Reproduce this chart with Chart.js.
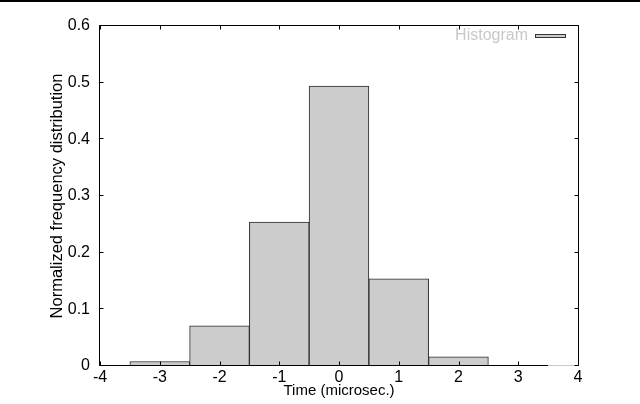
<!DOCTYPE html>
<html><head><meta charset="utf-8">
<script src="https://cdn.jsdelivr.net/npm/chart.js@4"></script>
<style>html,body{margin:0;padding:0;background:#fff;}#wrap{width:640px;height:404px;position:relative}canvas{display:block}</style>
</head><body><div id="wrap"><canvas id="c" width="640" height="404"></canvas></div>
<script>
const binCenters = [-3, -2, -1, 0, 1, 2, 3];
const frequencies = [0.008, 0.071, 0.254, 0.494, 0.154, 0.016, 0.001];
const xTickValues = [-4, -3, -2, -1, 0, 1, 2, 3, 4];
const yTickValues = [0, 0.1, 0.2, 0.3, 0.4, 0.5, 0.6];
const seriesLabel = 'Histogram';
const xTitle = 'Time (microsec.)';
const yTitle = 'Normalized frequency distribution';

const FONT = '"Liberation Sans", Arial, Helvetica, sans-serif';

const framePlugin = {
  id: 'frame',
  afterDatasetsDraw(chart) {
    const {ctx, chartArea: a, scales: {x, y}} = chart;
    ctx.save();
    const L = Math.round(a.left) - 0.5, R = Math.round(a.right) + 0.5;
    const T = Math.round(a.top) - 0.5, B = Math.round(a.bottom) - 0.5;
    const tl = 4;
    ctx.lineWidth = 1;
    ctx.strokeStyle = '#000';
    ctx.beginPath();
    ctx.moveTo(L, B); ctx.lineTo(L, T); ctx.lineTo(R, T); ctx.lineTo(R, B);
    const xEnd = x.getPixelForValue(binCenters[binCenters.length - 1] + 0.5);
    ctx.moveTo(L, B); ctx.lineTo(xEnd, B);
    ctx.stroke();
    ctx.strokeStyle = '#c8c8c8';
    ctx.beginPath(); ctx.moveTo(xEnd, B); ctx.lineTo(R - 0.5, B); ctx.stroke();
    ctx.strokeStyle = '#000';
    ctx.beginPath();
    xTickValues.forEach(v => {
      const px = Math.round(x.getPixelForValue(v)) + 0.5;
      ctx.moveTo(px, B); ctx.lineTo(px, B - tl);
      ctx.moveTo(px, T); ctx.lineTo(px, T + tl);
    });
    yTickValues.forEach(v => {
      const py = Math.round(y.getPixelForValue(v)) - 0.5;
      ctx.moveTo(L, py); ctx.lineTo(L + tl, py);
      ctx.moveTo(R, py); ctx.lineTo(R - tl, py);
    });
    ctx.stroke();
    ctx.font = '16px ' + FONT;
    ctx.fillStyle = '#c8c8c8';
    ctx.textAlign = 'right';
    ctx.textBaseline = 'middle';
    ctx.fillText(chart.data.datasets[0].label, 528, 36);
    ctx.fillStyle = '#cccccc';
    ctx.fillRect(535, 34, 31, 4);
    ctx.strokeStyle = '#333';
    ctx.strokeRect(535.5, 34.5, 30, 3);
    ctx.fillStyle = '#000';
    ctx.fillRect(0, 0, 640, 2);
    ctx.restore();
  }
};

new Chart(document.getElementById('c'), {
  type: 'bar',
  data: {
    datasets: [{
      label: seriesLabel,
      data: binCenters.map((c, i) => ({x: c, y: frequencies[i]})),
      backgroundColor: '#cccccc',
      borderColor: '#2a2a2a',
      borderWidth: 1,
      borderSkipped: false,
      barPercentage: 1,
      categoryPercentage: 1
    }]
  },
  options: {
    responsive: false,
    devicePixelRatio: 1,
    animation: false,
    layout: {padding: {top: 26, right: 62, left: 0, bottom: 0}},
    plugins: {legend: {display: false}, tooltip: {enabled: false}},
    scales: {
      x: {
        type: 'linear', min: -4, max: 4, offset: false,
        afterBuildTicks: s => { s.ticks = xTickValues.map(v => ({value: v})); },
        afterFit: s => { s.height = 38; },
        grid: {display: false, drawTicks: false},
        border: {display: false},
        ticks: {color: '#000', font: {family: FONT, size: 16}, padding: 2, autoSkip: false, maxRotation: 0,
                callback: v => String(v)},
        title: {display: true, text: xTitle, color: '#000', font: {family: FONT, size: 15}, padding: {top: 0, bottom: 4}}
      },
      y: {
        type: 'linear', min: 0, max: 0.6,
        afterBuildTicks: s => { s.ticks = yTickValues.map(v => ({value: v})); },
        afterFit: s => { s.width = 100; },
        grid: {display: false, drawTicks: false},
        border: {display: false},
        ticks: {color: '#000', font: {family: FONT, size: 16}, padding: 10, autoSkip: false,
                callback: v => String(v)},
        title: {display: true, text: yTitle, color: '#000', font: {family: FONT, size: 16.5}, padding: {top: 48, bottom: 0}}
      }
    }
  },
  plugins: [framePlugin]
});
</script>
</body></html>
